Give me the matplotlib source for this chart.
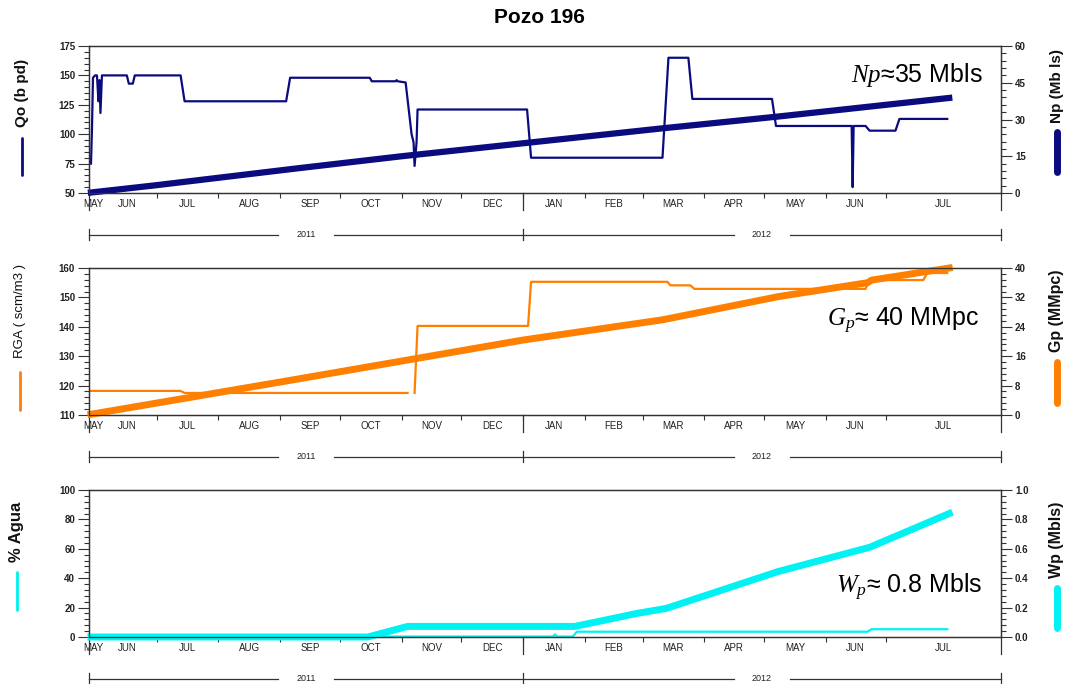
import numpy as np
import pandas as pd
import matplotlib.pyplot as plt
from matplotlib.lines import Line2D
from matplotlib.ticker import MultipleLocator

plt.rcParams['font.family'] = ['Liberation Sans', 'DejaVu Sans']
plt.rcParams['mathtext.fontset'] = 'custom'
plt.rcParams['mathtext.it'] = 'Liberation Serif:italic'
plt.rcParams['mathtext.rm'] = 'Liberation Sans'

# ---- datos ----
qo_fecha = ["2011-05-29 00:00", "2011-05-29 12:00", "2011-05-30", "2011-05-31", "2011-06-01",
            "2011-06-01 18:00", "2011-06-02 06:00", "2011-06-02 18:00", "2011-06-03 12:00",
            "2011-06-16", "2011-06-17", "2011-06-19", "2011-06-20", "2011-07-13", "2011-07-15",
            "2011-09-04", "2011-09-06", "2011-10-16", "2011-10-17", "2011-10-29", "2011-10-29 12:00",
            "2011-10-30", "2011-11-03", "2011-11-06", "2011-11-07", "2011-11-07 12:00",
            "2011-11-08 12:00", "2011-11-09", "2012-01-03", "2012-01-05", "2012-03-11",
            "2012-03-14", "2012-03-24", "2012-03-26", "2012-05-05", "2012-05-07", "2012-06-14",
            "2012-06-14 12:00", "2012-06-15", "2012-06-21", "2012-06-23", "2012-07-06",
            "2012-07-08", "2012-08-01"]
qo_bpd = [75, 105, 148, 150, 150, 128, 146, 118, 150,
          150, 143, 143, 150, 150, 128,
          128, 148, 148, 145, 145, 146,
          145, 144, 100, 93, 73,
          93, 121, 121, 80, 80,
          165, 165, 130, 130, 107, 107,
          55, 107, 107, 103, 103,
          113, 113]

np_fecha = ["2011-05-29", "2011-07-01", "2011-09-10", "2011-11-01", "2012-01-01",
            "2012-03-11", "2012-05-08", "2012-08-02"]
np_mbls = [0.2, 3.2, 10.1, 15.0, 20.3, 26.4, 31.2, 38.8]

rga_fecha = ["2011-05-29", "2011-07-13", "2011-07-15", "2011-11-04", "2011-11-06",
             "2011-11-07 12:00", "2011-11-09", "2012-01-03 12:00", "2012-01-05",
             "2012-03-13 12:00", "2012-03-15", "2012-03-25", "2012-03-27", "2012-06-21",
             "2012-06-23", "2012-07-20", "2012-07-22", "2012-08-01"]
rga = [118.2, 118.2, 117.5, 117.5, np.nan,
       117.5, 140.3, 140.3, 155.3,
       155.3, 154.1, 154.1, 152.9, 152.9,
       155.9, 155.9, 158.3, 158.3]

gp_fecha = ["2011-05-29", "2011-09-10", "2012-01-01", "2012-03-11", "2012-05-08",
            "2012-06-22", "2012-06-24", "2012-08-02"]
gp_mmpc = [0.2, 9.8, 20.4, 25.9, 32.2, 36.0, 36.7, 40.0]

agua_fecha = ["2011-05-29", "2012-01-16", "2012-01-17", "2012-01-18", "2012-01-26",
              "2012-01-28", "2012-06-22", "2012-06-24", "2012-08-01"]
agua_pct = [0.3, 0.3, 1.8, 0.3, 0.3, 3.6, 3.6, 5.3, 5.3]

wp_fecha = ["2011-05-29", "2011-10-15", "2011-11-04", "2012-01-27", "2012-02-27",
            "2012-03-13", "2012-05-08", "2012-06-23", "2012-08-02"]
wp_mbls = [0.0, 0.0, 0.072, 0.072, 0.16, 0.195, 0.445, 0.61, 0.84]

meses = ["MAY", "JUN", "JUL", "AUG", "SEP", "OCT", "NOV", "DEC",
         "JAN", "FEB", "MAR", "APR", "MAY", "JUN", "JUL"]

# ---- eje de fechas ----
x_ini = pd.Timestamp("2011-05-28")
x_fin = pd.Timestamp("2012-08-28")
enero = pd.Timestamp("2012-01-01")
limites = [x_ini] + list(pd.date_range("2011-06-01", "2012-07-01", freq="MS")) + [x_fin]
centros = [a + (b - a) / 2 for a, b in zip(limites[:-1], limites[1:])]
ticks_mes = list(pd.date_range("2011-07-01", "2012-07-01", freq="MS"))

AZUL = "#0b0b80"
NARANJA = "#ff8000"
CIAN = "#00f2f2"
GRIS = "#333333"

W, H = 1068, 684
fig = plt.figure(figsize=(W / 100, H / 100), dpi=100)


def caja(top, bottom, left=89, right=1001):
    return [left / W, 1 - bottom / H, (right - left) / W, (bottom - top) / H]


def eje_fechas(ax):
    ax.set_xlim(x_ini, x_fin)
    ax.set_xticks(ticks_mes)
    ax.set_xticklabels([])
    ax.tick_params(axis="x", which="major", direction="out", length=3.5, width=0.8, color=GRIS)
    ax.set_xticks(centros, minor=True)
    ax.set_xticklabels(meses, minor=True, fontsize=7, color="#222222")
    ax.tick_params(axis="x", which="minor", length=0, pad=4)
    tr = ax.get_xaxis_transform()
    for d in [x_ini, enero, x_fin]:
        ax.plot([d, d], [0, -0.115], transform=tr, color=GRIS, lw=0.9, clip_on=False)
    # barra de años
    y = -0.283
    gap = pd.Timedelta(days=14)
    c2011 = x_ini + (enero - x_ini) / 2
    c2012 = enero + (x_fin - enero) / 2
    for a, b in [(x_ini, c2011 - gap), (c2011 + gap, c2012 - gap), (c2012 + gap, x_fin)]:
        ax.plot([a, b], [y, y], transform=tr, color=GRIS, lw=0.9, clip_on=False)
    for d in [x_ini, enero, x_fin]:
        ax.plot([d, d], [y - 0.04, y + 0.04], transform=tr, color=GRIS, lw=0.9, clip_on=False)
    for s, c in [("2011", c2011), ("2012", c2012)]:
        ax.text(c, y, s, transform=tr, ha="center", va="center", fontsize=6.5, color="#222222")


def eje_y(ax, lim, paso, menor):
    ax.set_ylim(*lim)
    ax.set_yticks(np.arange(lim[0], lim[1] + paso / 2, paso))
    ax.yaxis.set_minor_locator(MultipleLocator(menor))
    ax.tick_params(axis="y", which="major", direction="out", length=8, width=0.8,
                   labelsize=7, pad=2, color=GRIS, labelcolor="#222222")
    ax.tick_params(axis="y", which="minor", direction="out", length=3.5, width=0.8, color=GRIS)
    for t in ax.get_yticklabels():
        t.set_fontweight("bold")


def marco(ax):
    for s in ax.spines.values():
        s.set_color(GRIS)
        s.set_linewidth(0.9)


def etiqueta(x, yc, texto, y0, y1, color, lw, peso="bold", size=11):
    fig.text(x / W, 1 - yc / H, texto, rotation=90, ha="center", va="center",
             fontsize=size, fontweight=peso, color="#111111")
    fig.add_artist(Line2D([x / W, x / W], [1 - y0 / H, 1 - y1 / H],
                          transform=fig.transFigure, color=color, lw=lw,
                          solid_capstyle="round"))


def fd(v):
    return pd.to_datetime(v, format="mixed")


# ---- panel 1: Qo / Np ----
ax1 = fig.add_axes(caja(46, 193))
ax1.plot(fd(qo_fecha), qo_bpd, color=AZUL, lw=1.6)
eje_y(ax1, (50, 175), 25, 5)
eje_fechas(ax1)
marco(ax1)
ax1b = ax1.twinx()
ax1b.plot(fd(np_fecha), np_mbls, color=AZUL, lw=4.5, clip_on=False)
eje_y(ax1b, (0, 60), 15, 3)
ax1b.set_xlim(x_ini, x_fin)
marco(ax1b)
ax1b.text(0.98, 0.755, r"$Np$≈35 Mbls", transform=ax1b.transAxes, ha="right",
          va="baseline", fontsize=18)
etiqueta(22, 93, "Qo (b pd)", 138, 175, AZUL, 2)
etiqueta(1057, 86, "Np (Mb ls)", 132, 172, AZUL, 5)

# ---- panel 2: RGA / Gp ----
ax2 = fig.add_axes(caja(268, 415))
ax2.plot(fd(rga_fecha), rga, color=NARANJA, lw=1.6)
eje_y(ax2, (110, 160), 10, 2)
eje_fechas(ax2)
marco(ax2)
ax2b = ax2.twinx()
ax2b.plot(fd(gp_fecha), gp_mmpc, color=NARANJA, lw=5, clip_on=False)
eje_y(ax2b, (0, 40), 8, 1.6)
ax2b.set_xlim(x_ini, x_fin)
marco(ax2b)
ax2b.text(0.976, 0.60, r"$G_p$≈ 40 MMpc", transform=ax2b.transAxes, ha="right",
          va="baseline", fontsize=18)
etiqueta(20, 311, "RGA ( scm/m3 )", 372, 410, NARANJA, 2, peso="normal", size=9.5)
etiqueta(1057, 311, "Gp (MMpc)", 362, 403, NARANJA, 5, size=11.5)

# ---- panel 3: % Agua / Wp ----
ax3 = fig.add_axes(caja(490, 637))
ax3.plot(fd(agua_fecha), agua_pct, color=CIAN, lw=1.6)
eje_y(ax3, (0, 100), 20, 4)
eje_fechas(ax3)
marco(ax3)
ax3b = ax3.twinx()
ax3b.plot(fd(wp_fecha), wp_mbls, color=CIAN, lw=5, clip_on=False)
eje_y(ax3b, (0, 1.0), 0.2, 0.04)
ax3b.set_yticklabels([f"{v:.1f}" for v in np.arange(0, 1.01, 0.2)], fontweight="bold")
ax3b.set_xlim(x_ini, x_fin)
marco(ax3b)
ax3b.text(0.98, 0.297, r"$W_p$≈ 0.8 Mbls", transform=ax3b.transAxes, ha="right",
          va="baseline", fontsize=18)
etiqueta(17, 532, "% Agua", 572, 610, CIAN, 2, size=12)
etiqueta(1057, 540, "Wp (Mbls)", 588, 628, CIAN, 5, size=11.5)

fig.text(0.505, 0.974, "Pozo 196", ha="center", va="center", fontsize=15, fontweight="bold")

fig.savefig("out.png", dpi=100)
